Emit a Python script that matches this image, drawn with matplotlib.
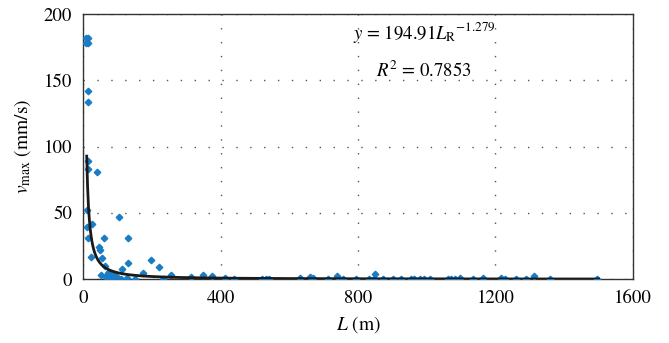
import numpy as np
import matplotlib
matplotlib.use("Agg")
import matplotlib.pyplot as plt

plt.rcParams['font.family'] = ['STIXGeneral', 'DejaVu Serif']
plt.rcParams['mathtext.fontset'] = 'stix'

# measured points: distance L (m) and peak velocity v_max (mm/s)
L_obs = [7, 13, 7, 15, 13, 13, 13, 13, 41, 12,
         105, 12, 25, 15, 61, 131, 23, 45, 49, 54,
         196, 131, 220, 62, 112, 51, 72, 76, 76, 87,
         66, 80, 95, 109, 126, 150, 173, 231, 255, 313,
         349, 376, 413, 438, 521, 531, 541, 630, 659, 669,
         712, 739, 743, 756, 793, 833, 845, 850, 872, 901,
         926, 955, 964, 979, 993, 1008, 1061, 1071, 1083, 1098,
         1134, 1163, 1216, 1229, 1260, 1289, 1311, 1359, 1495,
         68, 72, 84, 90, 98]
v_obs = [182, 182, 178, 178, 142, 134, 89, 83, 81, 52,
         47, 39, 42, 31, 31, 31, 17, 24, 22, 16,
         14.5, 12, 9.5, 10, 7.5, 3, 4.5, 5.5, 1, 2.5,
         1.5, 0.5, 0.8, 0, 1.2, 0, 5, 0, 3, 1.5,
         3.5, 2.5, 1, 0, 0, 0, 0, 0.8, 2, 0.8,
         0, 2.5, 0, 0, 0, 0, 0, 4, 0, 0,
         0, 0, 0, 0, 0, 0, 0, 0, 0, 1.2,
         0, 0.7, 1.2, 0.5, 0, 0, 2.5, 0, 0,
         3, 1, 0.5, 3, 1.5]

# fitted power law, L_R = L / L_ref
fit_a = 194.91
fit_b = -1.279
L_ref = 5.6
L_fit = np.linspace(10, 1500, 600)
v_fit = fit_a * (L_fit / L_ref) ** fit_b

fig = plt.figure(figsize=(6.69, 3.43), dpi=100)
ax = fig.add_axes([0.1245, 0.186, 0.8215, 0.773])

ax.plot(L_obs, v_obs, 'D', color='#1a7cc4', markersize=3.3, zorder=3)
ax.plot(L_fit, v_fit, '-', color='#1a1a1a', lw=2, zorder=4)

ax.set_xlim(0, 1600)
ax.set_ylim(0, 200)
ax.set_xticks([0, 400, 800, 1200, 1600])
ax.set_yticks([0, 50, 100, 150, 200])
ax.tick_params(axis='both', which='both', length=0, labelsize=13.5)
ax.tick_params(axis='x', pad=8)
ax.tick_params(axis='y', pad=8)
ax.grid(True, linestyle=(0, (1, 9)), color='#555555', lw=1.0)

for s in ax.spines.values():
    s.set_color('#333333')
    s.set_linewidth(1.0)

ax.set_xlabel(r'$L$ (m)', fontsize=14, labelpad=5)
ax.set_ylabel(r'$v_{\mathrm{max}}$ (mm/s)', fontsize=14, labelpad=8)

ax.text(993, 186, r'$y$ = 194.91$L_{\mathrm{R}}$$^{-1.279}$', fontsize=13.5,
        ha='center', va='center')
ax.text(993, 157.5, r'$R^2$ = 0.7853', fontsize=13.5,
        ha='center', va='center')

plt.savefig('out.png', dpi=100)
